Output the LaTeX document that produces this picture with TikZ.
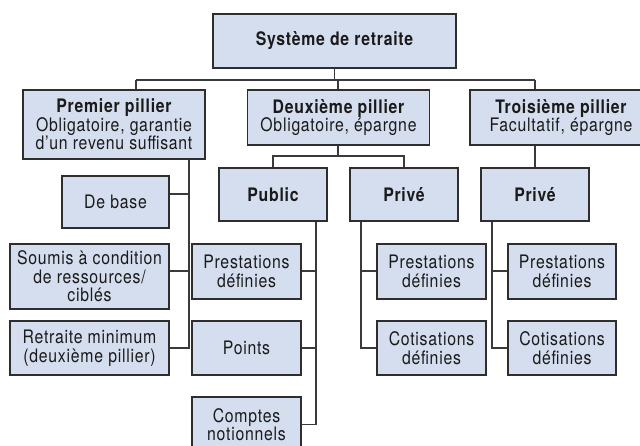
\documentclass[tikz,border=0pt]{standalone}
\usepackage{fontspec}
\setmainfont{TeX Gyre Heros}[FakeStretch=0.85, LetterSpace=4]
\definecolor{boxfill}{HTML}{D5DEEF}
\definecolor{boxline}{HTML}{2E2E2E}
\definecolor{connc}{HTML}{3A3A3A}
\definecolor{txt}{HTML}{1A1A1A}
\begin{document}
\begin{tikzpicture}[x=1pt,y=-1pt,
  box/.style={draw=boxline, fill=boxfill, line width=1.2pt, inner sep=0pt,
    align=center, text=txt, font=\fontsize{18.6}{18.5}\selectfont},
  conn/.style={draw=connc, line width=1.4pt},
  wide/.style={minimum width=182pt},
  small/.style={minimum width=108pt, minimum height=54pt}]
\useasboundingbox (0,0) rectangle (640,446);
\clip (0,0) rectangle (640,446);
\fill[white] (0,0) rectangle (640,446);

% top
\node[box, minimum width=243pt, minimum height=54pt] (sys) at (334.5,41) {\bfseries Système de retraite};

% pillars
\node[box, wide, minimum height=69pt] (p1) at (114,124.5)
  {\bfseries Premier pillier\\Obligatoire, garantie\\d’un revenu suffisant};
\node[box, wide, minimum height=55pt] (p2) at (338.5,117.5)
  {\bfseries Deuxième pillier\\Obligatoire, épargne};
\node[box, wide, minimum height=55pt] (p3) at (561,117.5)
  {\bfseries Troisième pillier\\Facultatif, épargne};

% second level
\node[box, small, minimum height=53pt] (pub) at (273,194.5) {\bfseries Public};
\node[box, small, minimum height=53pt] (pr2) at (404,194.5) {\bfseries Privé};
\node[box, small, minimum height=53pt] (pr3) at (535,194.5) {\bfseries Privé};

% premier pillier children
\node[box, minimum width=107pt, minimum height=52pt] (base) at (115.5,202) {De base};
\node[box, minimum width=159pt, minimum height=65pt] (soum) at (89.5,276.5)
  {Soumis à condition\\de ressources/\\ciblés};
\node[box, minimum width=159pt, minimum height=54pt] (rmin) at (89.5,348)
  {Retraite minimum\\(deuxième pillier)};

% public children
\node[box, small, minimum width=109pt, minimum height=55pt] (pd1) at (246.5,271.5) {Prestations\\définies};
\node[box, small, minimum width=109pt] (pts) at (246.5,348) {Points};
\node[box, small, minimum width=109pt, minimum height=55pt] (cn) at (246.5,424.5) {Comptes\\notionnels};

% prive 2 children
\node[box, small, minimum width=109pt, minimum height=55pt] (pd2) at (431.5,271.5) {Prestations\\définies};
\node[box, small, minimum width=109pt] (cd2) at (431.5,348) {Cotisations\\définies};

% prive 3 children
\node[box, small, minimum height=55pt] (pd3) at (562,271.5) {Prestations\\définies};
\node[box, small] (cd3) at (562,348) {Cotisations\\définies};

% junction coordinates
\coordinate (b1) at (136,80);
\coordinate (b3) at (535,80);
\coordinate (c2) at (338,156);
\coordinate (t1) at (189,194);
\coordinate (tp) at (316,271);
\coordinate (t2) at (361,271);
\coordinate (t3) at (492,271);

% connectors
\draw[conn] (sys.south) -- (sys.south |- b1);
\draw[conn] (b1) -- (b3);
\draw[conn] (b1) -- (b1 |- p1.north);
\draw[conn] (p2.north -| c2) -- (c2 |- b1);
\draw[conn] (b3) -- (b3 |- p3.north);

\draw[conn] (p2.south -| c2) -- (c2);
\draw[conn] (pub.north) |- (c2) -| (pr2.north);
\draw[conn] (p3.south -| pr3.north) -- (pr3.north);

% premier pillier trunk
\draw[conn] (p1.south -| t1) -- (t1 |- rmin.east) -- (rmin.east);
\draw[conn] (t1) -- (t1 -| base.east);
\draw[conn] (t1 |- tp) -- (soum.east |- tp);

% public trunk
\draw[conn] (pub.south -| tp) -- (tp |- cn.east) -- (cn.east);
\draw[conn] (tp) -- (pd1.east |- tp);
\draw[conn] (tp |- pts.east) -- (pts.east);

% prive 2 trunk
\draw[conn] (pr2.south -| t2) -- (t2 |- cd2.west) -- (cd2.west);
\draw[conn] (t2) -- (pd2.west |- t2);

% prive 3 trunk
\draw[conn] (pr3.south -| t3) -- (t3 |- cd3.west) -- (cd3.west);
\draw[conn] (t3) -- (pd3.west |- t3);
\end{tikzpicture}
\end{document}
